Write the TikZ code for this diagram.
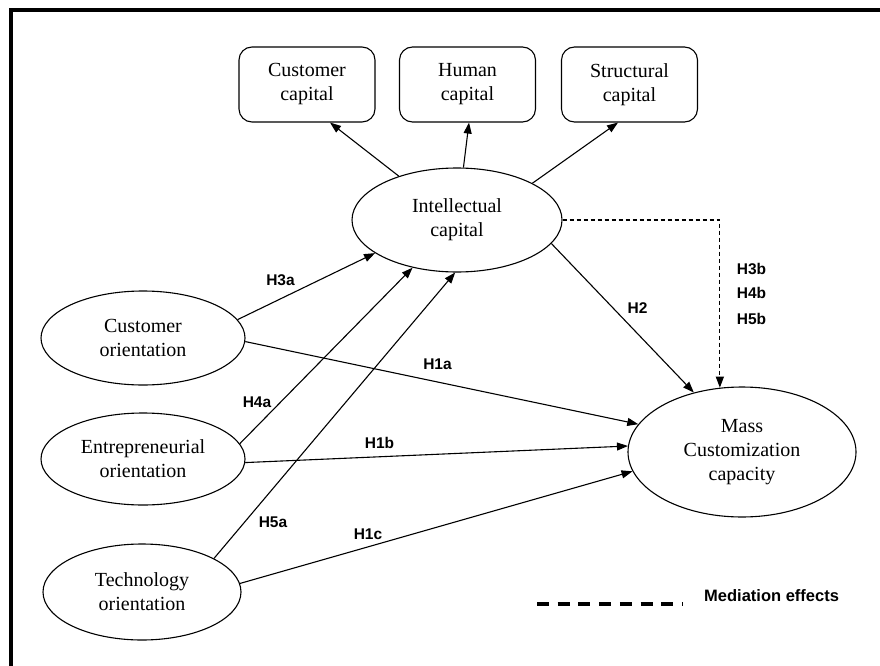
\documentclass[tikz,border=0pt]{standalone}
\usepackage{fontspec}
\setmainfont{Liberation Serif}
\newfontfamily\lblfont{Liberation Sans}
\usetikzlibrary{shapes.geometric,arrows.meta}
\begin{document}
\begin{tikzpicture}[x=1pt,y=-1pt,
  every node/.style={inner sep=0pt},
  oval/.style={ellipse,draw,line width=1.1pt,align=center,font=\fontsize{20}{24}\selectfont},
  capbox/.style={rounded corners=13pt,draw,line width=1.1pt,minimum width=136pt,minimum height=75pt,align=center,font=\fontsize{20}{24}\selectfont},
  link/.style={line width=1.1pt,-{Triangle[length=11pt,width=8pt]}},
  medlink/.style={link,dash pattern=on 4pt off 3pt},
  hlbl/.style={font=\lblfont\bfseries\fontsize{15.5}{18}\selectfont},
]
\useasboundingbox (0,0) rectangle (880,666);
% frame
\draw[line width=4pt] (11.3,666) -- (11.3,10.3) -- (880,10.3);

% top boxes
\node[capbox] (CC) at (307,84.5) {Customer\\capital};
\node[capbox] (HC) at (467.5,84.5) {Human\\capital};
\node[capbox] (SC) at (629.5,84.5) {Structural\\capital};

% ellipses
\node[oval,minimum width=210pt,minimum height=104pt] (IC) at (457,220) {Intellectual\\capital};
\node[oval,minimum width=204pt,minimum height=94pt] (CO) at (143,338) {Customer\\orientation};
\node[oval,minimum width=204pt,minimum height=92pt] (EO) at (143,459) {Entrepreneurial\\orientation};
\node[oval,minimum width=198pt,minimum height=96pt] (TO) at (142,592) {Technology\\orientation};
\node[oval,minimum width=228pt,minimum height=130pt] (MCC) at (742,452) {Mass\\Customization\\capacity};

% connectors
\draw[link] (IC.143.7) -- ([xshift=23pt]CC.south);
\draw[link] (IC.83.4) -- ([xshift=1.5pt]HC.south);
\draw[link] (IC.26) -- ([xshift=-11.5pt]SC.south);
\draw[link] (CO.11.1) -- (IC.202.6);
\draw[link] (EO.9.4) -- (IC.227.5);
\draw[link] (TO.25.3) -- (IC.268);
\draw[link] (CO.-2.9) -- (MCC.165);
\draw[link] (EO.-2.3) -- (MCC.177.5);
\draw[link] (TO.5.2) -- (MCC.190.8);
\draw[link] (IC.-14.7) -- (MCC.129.2);
\draw[medlink] (IC.east) -| (MCC.109);

% labels
\node[hlbl] (l3a) at (280.5,280) {H3a};
\node[hlbl] (l4a) at (257,402) {H4a};
\node[hlbl] (l5a) at (273,522) {H5a};
\node[hlbl] (l1a) at (437.5,364.5) {H1a};
\node[hlbl] (l1b) at (379.5,442.5) {H1b};
\node[hlbl] (l1c) at (368,534) {H1c};
\node[hlbl] (l2) at (637.5,308.5) {H2};
\node[hlbl] (l3b) at (751.5,268.5) {H3b};
\node[hlbl] (l4b) at (751.5,293) {H4b};
\node[hlbl] (l5b) at (751.5,319) {H5b};

% legend
\coordinate (legA) at (537,604);
\coordinate (legB) at (683,604);
\draw[line width=3.3pt,dash pattern=on 12pt off 8.7pt] (legA) -- (legB);
\node[font=\lblfont\bfseries\fontsize{16.5}{19}\selectfont,anchor=west] (legT) at (704,596) {Mediation effects};
\end{tikzpicture}
\end{document}
